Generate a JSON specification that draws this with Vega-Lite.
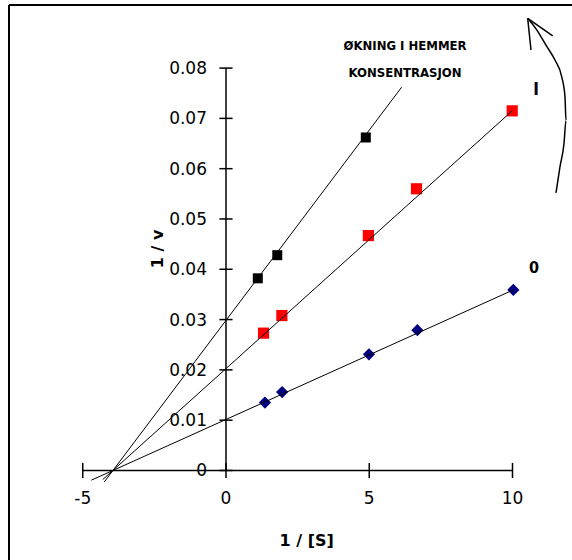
{
  "$schema": "https://vega.github.io/schema/vega-lite/v6.json",
  "width": 563,
  "height": 555,
  "autosize": {"type": "none"},
  "padding": {"left": 9, "top": 5, "right": 0, "bottom": 0},
  "background": "white",
  "config": {"view": {"stroke": null}},
  "datasets": {
    "frame": [
      {"x": -7.574, "x2": -7.574, "y": -0.0178, "y2": 0.09254},
      {"x": -7.574, "x2": 12.077, "y": 0.09254, "y2": 0.09254}
    ],
    "axes": [
      {"x": -5, "x2": 10, "y": 0, "y2": 0},
      {"x": 0, "x2": 0, "y": 0, "y2": 0.08},
      {"x": -5, "x2": -5, "y": -0.0015, "y2": 0.0015},
      {"x": 0, "x2": 0, "y": -0.0015, "y2": 0.0015},
      {"x": 5, "x2": 5, "y": -0.0015, "y2": 0.0015},
      {"x": 10, "x2": 10, "y": -0.0015, "y2": 0.0015},
      {"x": -0.23, "x2": 0.23, "y": 0, "y2": 0},
      {"x": -0.23, "x2": 0.23, "y": 0.01, "y2": 0.01},
      {"x": -0.23, "x2": 0.23, "y": 0.02, "y2": 0.02},
      {"x": -0.23, "x2": 0.23, "y": 0.03, "y2": 0.03},
      {"x": -0.23, "x2": 0.23, "y": 0.04, "y2": 0.04},
      {"x": -0.23, "x2": 0.23, "y": 0.05, "y2": 0.05},
      {"x": -0.23, "x2": 0.23, "y": 0.06, "y2": 0.06},
      {"x": -0.23, "x2": 0.23, "y": 0.07, "y2": 0.07},
      {"x": -0.23, "x2": 0.23, "y": 0.08, "y2": 0.08}
    ],
    "ylabels": [
      {"x": 0, "y": 0, "label": "0"},
      {"x": 0, "y": 0.01, "label": "0.01"},
      {"x": 0, "y": 0.02, "label": "0.02"},
      {"x": 0, "y": 0.03, "label": "0.03"},
      {"x": 0, "y": 0.04, "label": "0.04"},
      {"x": 0, "y": 0.05, "label": "0.05"},
      {"x": 0, "y": 0.06, "label": "0.06"},
      {"x": 0, "y": 0.07, "label": "0.07"},
      {"x": 0, "y": 0.08, "label": "0.08"}
    ],
    "xlabels": [
      {"x": -5, "y": 0, "label": "-5"},
      {"x": 0, "y": 0, "label": "0"},
      {"x": 5, "y": 0, "label": "5"},
      {"x": 10, "y": 0, "label": "10"}
    ],
    "points": [
      {"series": "II", "x": 1.11, "y": 0.0382},
      {"series": "II", "x": 1.79, "y": 0.0428},
      {"series": "II", "x": 4.88, "y": 0.0662},
      {"series": "I", "x": 1.31, "y": 0.0273},
      {"series": "I", "x": 1.95, "y": 0.0308},
      {"series": "I", "x": 4.97, "y": 0.0467},
      {"series": "I", "x": 6.65, "y": 0.056},
      {"series": "I", "x": 9.99, "y": 0.0715},
      {"series": "0", "x": 1.36, "y": 0.0135},
      {"series": "0", "x": 1.96, "y": 0.0156},
      {"series": "0", "x": 4.99, "y": 0.0231},
      {"series": "0", "x": 6.68, "y": 0.0279},
      {"series": "0", "x": 10.03, "y": 0.0359}
    ],
    "fits": [
      {"series": "0", "o": 1, "x": -4.7, "y": -0.00193},
      {"series": "0", "o": 2, "x": 10.03, "y": 0.0359},
      {"series": "I", "o": 1, "x": -4.3, "y": -0.0018},
      {"series": "I", "o": 2, "x": 9.99, "y": 0.0715},
      {"series": "II", "o": 1, "x": -4.25, "y": -0.0023},
      {"series": "II", "o": 2, "x": 6.13, "y": 0.0762}
    ],
    "arrow": [
      {"part": "shaft", "o": 1, "x": 10.53, "y": 0.0899},
      {"part": "shaft", "o": 2, "x": 10.845, "y": 0.0876},
      {"part": "shaft", "o": 3, "x": 11.194, "y": 0.0843},
      {"part": "shaft", "o": 4, "x": 11.483, "y": 0.0816},
      {"part": "shaft", "o": 5, "x": 11.717, "y": 0.0783},
      {"part": "shaft", "o": 6, "x": 11.832, "y": 0.0743},
      {"part": "shaft", "o": 7, "x": 11.867, "y": 0.0696},
      {"part": "shaft", "o": 8, "x": 11.798, "y": 0.065},
      {"part": "shaft", "o": 9, "x": 11.658, "y": 0.0604},
      {"part": "shaft", "o": 10, "x": 11.518, "y": 0.0552},
      {"part": "barb1", "o": 1, "x": 10.53, "y": 0.0899},
      {"part": "barb1", "o": 2, "x": 11.403, "y": 0.0864},
      {"part": "barb2", "o": 1, "x": 10.53, "y": 0.0899},
      {"part": "barb2", "o": 2, "x": 10.646, "y": 0.0836}
    ],
    "notes": [
      {"x": 6.25, "y": 0.0843, "label": "ØKNING I HEMMER", "size": 13},
      {"x": 6.25, "y": 0.079, "label": "KONSENTRASJON", "size": 13},
      {"x": 10.82, "y": 0.0757, "label": "I", "size": 17},
      {"x": 10.75, "y": 0.0402, "label": "0", "size": 16}
    ],
    "titles": [
      {"x": 2.817, "y": -0.01402, "label": "1 / [S]", "angle": 0},
      {"x": -2.373, "y": 0.04404, "label": "1 / v", "angle": 270}
    ]
  },
  "encoding": {
    "x": {"field": "x", "type": "quantitative", "scale": {"domain": [-7.574, 12.077], "nice": false, "zero": false}, "axis": null},
    "y": {"field": "y", "type": "quantitative", "scale": {"domain": [-0.0178, 0.09254], "nice": false, "zero": false}, "axis": null}
  },
  "layer": [
    {
      "data": {"name": "frame"},
      "mark": {"type": "rule", "color": "#000000", "strokeWidth": 2},
      "encoding": {"x2": {"field": "x2"}, "y2": {"field": "y2"}}
    },
    {
      "data": {"name": "axes"},
      "mark": {"type": "rule", "color": "#000000", "strokeWidth": 1.5},
      "encoding": {"x2": {"field": "x2"}, "y2": {"field": "y2"}}
    },
    {
      "data": {"name": "ylabels"},
      "mark": {"type": "text", "align": "right", "baseline": "middle", "dx": -19, "dy": 1, "font": "DejaVu Sans", "fontSize": 17, "color": "#000000"},
      "encoding": {"text": {"field": "label"}}
    },
    {
      "data": {"name": "xlabels"},
      "mark": {"type": "text", "align": "center", "baseline": "middle", "dy": 29, "font": "DejaVu Sans", "fontSize": 17, "color": "#000000"},
      "encoding": {"text": {"field": "label"}}
    },
    {
      "data": {"name": "points"},
      "mark": {"type": "point", "filled": true, "opacity": 1},
      "encoding": {
        "color": {"field": "series", "type": "nominal", "scale": {"domain": ["0", "I", "II"], "range": ["#000080", "#FF0000", "#000000"]}, "legend": null},
        "shape": {"field": "series", "type": "nominal", "scale": {"domain": ["0", "I", "II"], "range": ["diamond", "square", "square"]}, "legend": null},
        "size": {"field": "series", "type": "nominal", "scale": {"domain": ["0", "I", "II"], "range": [150, 100, 95]}, "legend": null}
      }
    },
    {
      "data": {"name": "fits"},
      "mark": {"type": "line", "color": "#000000", "strokeWidth": 1},
      "encoding": {"detail": {"field": "series"}, "order": {"field": "o"}}
    },
    {
      "data": {"name": "arrow"},
      "mark": {"type": "line", "color": "#000000", "strokeWidth": 1.5, "interpolate": "monotone"},
      "encoding": {"detail": {"field": "part"}, "order": {"field": "o"}}
    },
    {
      "data": {"name": "notes"},
      "mark": {"type": "text", "align": "center", "baseline": "middle", "font": "DejaVu Sans Condensed", "fontWeight": "bold", "color": "#000000"},
      "encoding": {"text": {"field": "label"}, "size": {"field": "size", "type": "quantitative", "scale": null}}
    },
    {
      "data": {"name": "titles"},
      "mark": {"type": "text", "align": "center", "baseline": "middle", "font": "DejaVu Sans", "fontWeight": "bold", "fontSize": 16, "color": "#000000"},
      "encoding": {"text": {"field": "label"}, "angle": {"field": "angle", "type": "quantitative", "scale": null}}
    }
  ]
}
